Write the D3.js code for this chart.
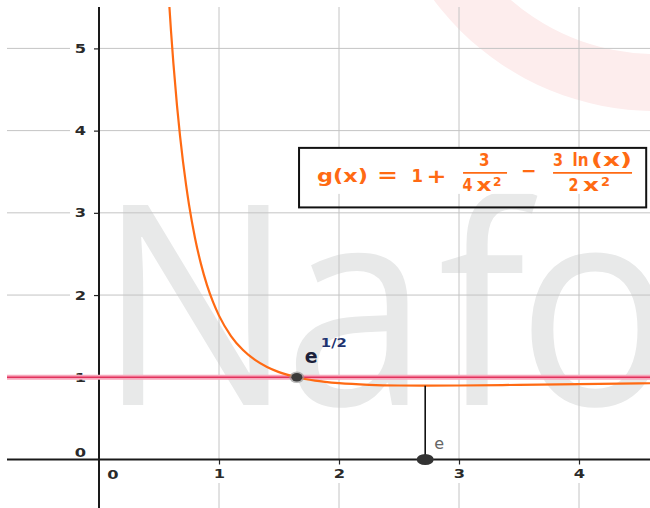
<!DOCTYPE html>
<html>
<head>
<meta charset="utf-8">
<script src="https://cdn.jsdelivr.net/npm/d3@7"></script>
<style>
    body { margin: 0; background: #fff; }
    svg { display: block; }
    .tick line { stroke: #222; stroke-width: 1.2; }
</style>
</head>
<body>
<svg id="chart" width="650" height="508"></svg>
<script>
"use strict"

// values
const xTicks = [1, 2, 3, 4]
const yTicks = [1, 2, 3, 4, 5]

// g(x) = 1 + 3/(4x^2) - 3 ln(x)/(2x^2), sampled
const curveX = [0.56, 0.57, 0.58, 0.60, 0.62, 0.65, 0.675, 0.70, 0.725, 0.75, 0.80, 0.85, 0.90, 0.95, 1.00,
                1.10, 1.20, 1.30, 1.40, 1.50, 1.6487, 1.80, 2.00, 2.25, 2.50, 2.7183, 3.00, 3.50, 4.00, 4.50, 5.00]
const curveY = [6.165, 5.904, 5.658, 5.212, 4.817, 4.305, 3.940, 3.623, 3.345, 3.100, 2.695, 2.376, 2.121, 1.916, 1.750,
                1.502, 1.331, 1.211, 1.125, 1.063, 1.000, 0.959, 0.928, 0.908, 0.900, 0.8985, 0.900, 0.908, 0.917, 0.926, 0.933]

const hLineY = 1
const pointA = { x: 1.6487, y: 1 }        // e^(1/2)
const pointB = { x: 2.7183, y: 0 }        // e
const segB   = { x: 2.7183, y0: 0, y1: 0.8985 }
const formulaBox = { x0: 1.667, x1: 4.56, y0: 3.79, y1: 3.066 }

const W = 650, H = 508
const frame = { left: 7, top: 7, right: W, bottom: H }

const orange = "#ff6a13"
const grid = "#c4c4c4"
const tickFont = "DejaVu Sans, sans-serif"
const stretch = 1.3   // the picture is wider than tall, text too

const svg = d3.select("#chart")

const x = d3.scaleLinear().domain([0, 4]).range([99, 579])
const y = d3.scaleLinear().domain([0, 5]).range([459.5, 48.4])

svg.append("defs").append("clipPath").attr("id", "plot")
   .append("rect")
   .attr("x", frame.left).attr("y", frame.top)
   .attr("width", frame.right - frame.left).attr("height", frame.bottom - frame.top)

// watermark: pale red ring top right + big grey "Nafo"
const ring = d3.arc().innerRadius(219).outerRadius(276).startAngle(-Math.PI).endAngle(0)
svg.append("path")
   .attr("d", ring())
   .attr("transform", "translate(655,-165)")
   .attr("fill", "#fdeded")

const mark = svg.append("text")
   .attr("transform", "scale(0.93,1)")
   .attr("font-family", "Open Sans, sans-serif")
   .attr("font-size", 280)
   .attr("fill", "#e8e9e9")
   .attr("y", 405)
const markPos = [["N", 97.7], ["a", 284], ["f", 438], ["o", 517]]
markPos.forEach(([ch, px]) => mark.append("tspan").attr("x", px / 0.93).text(ch))

// grid, broken where the tick labels sit
const gridG = svg.append("g").attr("stroke", grid).attr("stroke-width", 1)
yTicks.forEach(v => {
    gridG.append("line").attr("x1", frame.left).attr("x2", 70).attr("y1", y(v)).attr("y2", y(v))
    gridG.append("line").attr("x1", x(0)).attr("x2", frame.right).attr("y1", y(v)).attr("y2", y(v))
})
xTicks.forEach(v => {
    gridG.append("line").attr("x1", x(v)).attr("x2", x(v)).attr("y1", frame.top).attr("y2", y(0))
    gridG.append("line").attr("x1", x(v)).attr("x2", x(v)).attr("y1", 483).attr("y2", frame.bottom)
})

// formula box
const bx = x(formulaBox.x0), by = y(formulaBox.y0)
const bw = x(formulaBox.x1) - bx, bh = y(formulaBox.y1) - by
svg.append("rect").attr("x", bx).attr("y", by).attr("width", bw).attr("height", 46).attr("fill", "#fff")
svg.append("rect").attr("x", bx).attr("y", by).attr("width", bw).attr("height", bh)
   .attr("fill", "none").attr("stroke", "#111").attr("stroke-width", 2)

const formula = svg.append("g")
   .attr("transform", `translate(${bx},${by})`)
   .attr("font-family", "DejaVu Sans, sans-serif")
   .attr("font-weight", "bold")
   .attr("fill", orange)

function piece(str, dx, dy, size, w) {
    const t = formula.append("text").attr("x", dx).attr("y", dy).attr("font-size", size).text(str)
    if (w) t.attr("textLength", w).attr("lengthAdjust", "spacingAndGlyphs")
    return t
}

piece("g(x)", 18, 34, 18.5, 51)
piece("=", 78, 34, 19, 21)
piece("1", 112.5, 34, 18.5, 11.5)
piece("+", 127.5, 35, 20, 20)
piece("3", 180, 18.5, 18.5, 10.5)
piece("4", 163.5, 43.5, 18.5, 10)
piece("x", 177.5, 43.5, 18.5, 15)
piece("2", 194, 38.5, 12, 8.5)
piece("\u2212", 222, 29.5, 19, 15.5)
piece("3", 254, 18.5, 18.5, 10)
piece("ln", 273.5, 18.5, 18.5, 16)
piece("(x)", 292, 18.5, 18.5, 41)
piece("2", 269.5, 43.5, 18.5, 10)
piece("x", 284, 43.5, 18.5, 16)
piece("2", 302, 38.5, 12, 9)
formula.append("line").attr("x1", 164).attr("x2", 208).attr("y1", 25).attr("y2", 25)
       .attr("stroke", orange).attr("stroke-width", 1.6)
formula.append("line").attr("x1", 254).attr("x2", 333).attr("y1", 25).attr("y2", 25)
       .attr("stroke", orange).attr("stroke-width", 1.6)

// axes
const gy = svg.append("g").attr("transform", `translate(${x(0)},0)`)
   .call(d3.axisLeft(y).tickValues(yTicks).tickSize(5).tickPadding(8).tickFormat(d3.format("d")))
gy.select(".domain").remove()

const gx = svg.append("g").attr("transform", `translate(0,${y(0)})`)
   .call(d3.axisBottom(x).tickValues(xTicks).tickSize(5).tickPadding(5).tickFormat(d3.format("d")))
gx.select(".domain").remove()

for (const g of [gx, gy]) {
    g.attr("font-family", tickFont).attr("font-size", 12.5).attr("font-weight", "bold")
    g.selectAll(".tick text").attr("fill", "#2a2a2a").attr("transform", `scale(${stretch},1)`)
}
gy.selectAll(".tick text").attr("x", -13 / stretch)

const zeroLabel = (px, py, anchor) => svg.append("text")
   .attr("transform", `translate(${px},${py}) scale(${stretch},1)`)
   .attr("text-anchor", anchor)
   .attr("font-family", tickFont).attr("font-size", 12.5).attr("font-weight", "bold")
   .attr("fill", "#2a2a2a").text("0")
zeroLabel(86, y(0) - 3, "end")
zeroLabel(x(0) + 14, y(0) + 19, "middle")

svg.append("line").attr("x1", x(0)).attr("x2", x(0)).attr("y1", frame.top).attr("y2", frame.bottom)
   .attr("stroke", "#1a1a1a").attr("stroke-width", 2)
svg.append("line").attr("x1", frame.left).attr("x2", frame.right).attr("y1", y(0)).attr("y2", y(0))
   .attr("stroke", "#1a1a1a").attr("stroke-width", 2)

// y = 1
svg.append("line").attr("x1", frame.left).attr("x2", frame.right).attr("y1", y(hLineY)).attr("y2", y(hLineY))
   .attr("stroke", "#f7a9bd").attr("stroke-width", 5)
svg.append("line").attr("x1", frame.left).attr("x2", frame.right).attr("y1", y(hLineY)).attr("y2", y(hLineY))
   .attr("stroke", "#e2325c").attr("stroke-width", 1.6)

// curve
const line = d3.line().x(d => x(d[0])).y(d => y(d[1])).curve(d3.curveMonotoneX)
svg.append("path")
   .datum(d3.zip(curveX, curveY))
   .attr("clip-path", "url(#plot)")
   .attr("d", line)
   .attr("fill", "none")
   .attr("stroke", orange)
   .attr("stroke-width", 2.2)

// segment down to (e, 0)
svg.append("line").attr("x1", x(segB.x)).attr("x2", x(segB.x)).attr("y1", y(segB.y0)).attr("y2", y(segB.y1))
   .attr("stroke", "#111").attr("stroke-width", 1.6)

// points
svg.append("ellipse").attr("cx", x(pointA.x)).attr("cy", y(pointA.y)).attr("rx", 7.5).attr("ry", 5.8)
   .attr("fill", "#9a9a9a").attr("opacity", 0.7)
svg.append("ellipse").attr("cx", x(pointA.x)).attr("cy", y(pointA.y)).attr("rx", 5.5).attr("ry", 4.2)
   .attr("fill", "#3b3b3b")
svg.append("ellipse").attr("cx", x(pointB.x)).attr("cy", y(pointB.y)).attr("rx", 8.5).attr("ry", 5.6)
   .attr("fill", "#333")

// point labels
svg.append("text").attr("x", x(pointA.x) + 8).attr("y", y(pointA.y) - 14)
   .attr("font-family", "DejaVu Sans, sans-serif").attr("font-weight", "bold").attr("font-size", 19)
   .attr("fill", "#1b1f3a").text("e")
svg.append("text").attr("x", x(pointA.x) + 24).attr("y", y(pointA.y) - 30)
   .attr("font-family", "DejaVu Sans, sans-serif").attr("font-weight", "bold").attr("font-size", 13)
   .attr("textLength", 26).attr("lengthAdjust", "spacingAndGlyphs")
   .attr("fill", "#1f3470").text("1/2")
svg.append("text").attr("x", x(pointB.x) + 9).attr("y", y(pointB.y) - 10.5)
   .attr("font-family", "DejaVu Sans, sans-serif").attr("font-size", 16)
   .attr("fill", "#666").text("e")
</script>
</body>
</html>
